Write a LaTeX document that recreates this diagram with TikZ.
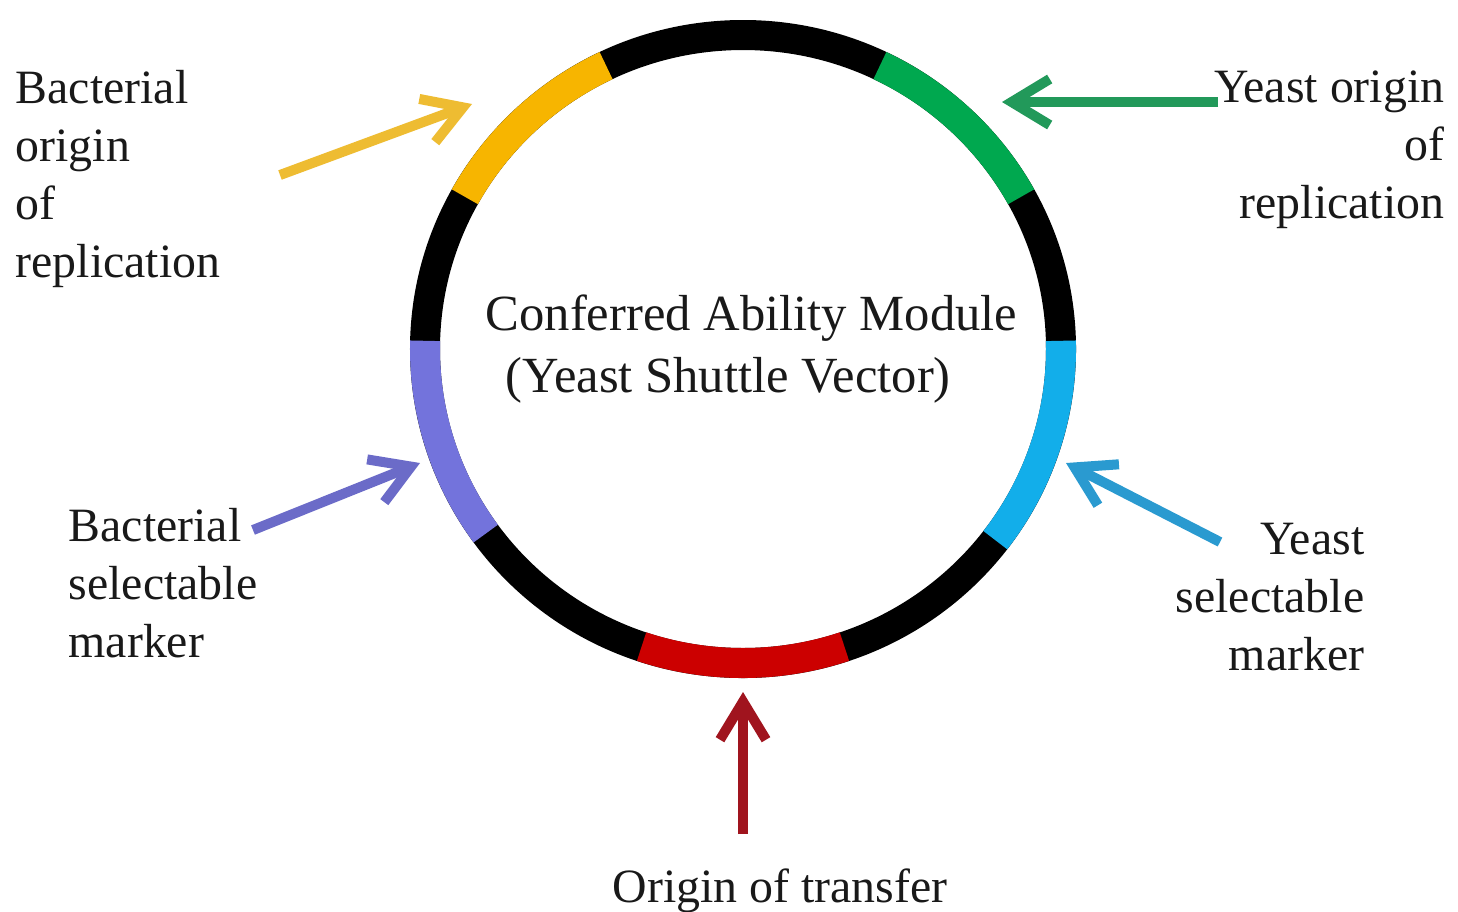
\documentclass[tikz,border=0pt]{standalone}
\usepackage{fontspec}
\setmainfont{Liberation Serif}
\usetikzlibrary{arrows.meta}
\definecolor{ringyellow}{RGB}{247,181,0}
\definecolor{ringgreen}{RGB}{0,168,79}
\definecolor{ringpurple}{RGB}{115,115,220}
\definecolor{ringblue}{RGB}{18,174,234}
\definecolor{ringred}{RGB}{204,0,0}
\definecolor{arryellow}{RGB}{238,188,50}
\definecolor{arrgreen}{RGB}{34,153,90}
\definecolor{arrpurple}{RGB}{107,107,200}
\definecolor{arrblue}{RGB}{42,154,208}
\definecolor{arrred}{RGB}{160,20,30}
\definecolor{txt}{RGB}{25,25,25}
\begin{document}
\begin{tikzpicture}[x=0.01cm,y=0.01cm,
  seg/.style={line width=0.3cm},
  pointer/.style={line width=0.1cm, -{Straight Barb[length=0.38cm,width=0.46cm]}},
  sidelabel/.style={inner sep=0pt, text=txt, font=\fontsize{13.6}{16.5}\selectfont},
]
\useasboundingbox (0,0) rectangle (1458,-911);
\fill[white] (0,0) rectangle (1458,-911);
\coordinate (c) at (743,-349);
% ring
\draw[seg, black] (c) ellipse[x radius=318, y radius=314];
\foreach \a/\b/\col in {-37.5/1.5/ringblue, 29/64.5/ringgreen, 115.5/151/ringyellow, 178.5/216/ringpurple, 251.4/288.6/ringred}
  \draw[seg, \col] (c) ++({\a}:{318} and {314}) arc[start angle=\a, end angle=\b, x radius=318, y radius=314];
% centre text
\node[inner sep=0pt, text=txt, anchor=west, align=left, font=\fontsize{14.4}{17.6}\selectfont] (cam) at (485,-349)
  {Conferred Ability Module\\\hspace*{0.2cm}(Yeast Shuttle Vector)};
% labels
\node[sidelabel, anchor=north west, align=left] (bor) at (15,-70) {Bacterial\\origin\\of\\replication};
\node[sidelabel, anchor=north east, align=right] (yor) at (1445,-70) {Yeast origin\\of\\replication};
\node[sidelabel, anchor=north west, align=left] (bsm) at (68,-508) {Bacterial\\selectable\\marker};
\node[sidelabel, anchor=north east, align=right] (ysm) at (1365,-522) {Yeast\\selectable\\marker};
\node[sidelabel, anchor=north] (oot) at (780,-868) {Origin of transfer};
% arrow ends
\coordinate (byt) at (280,-175); \coordinate (byh) at (472,-104);
\coordinate (gyt) at (1218,-102); \coordinate (gyh) at (1002,-102);
\coordinate (pbt) at (253,-530); \coordinate (pbh) at (420,-463);
\coordinate (bbt) at (1220,-542); \coordinate (bbh) at (1066,-463);
\coordinate (rrt) at (743,-834); \coordinate (rrh) at (743,-692);
\draw[pointer, arryellow] (byt) -- (byh);
\draw[pointer, arrgreen] (gyt) -- (gyh);
\draw[pointer, arrpurple] (pbt) -- (pbh);
\draw[pointer, arrblue] (bbt) -- (bbh);
\draw[pointer, arrred] (rrt) -- (rrh);
\end{tikzpicture}
\end{document}
